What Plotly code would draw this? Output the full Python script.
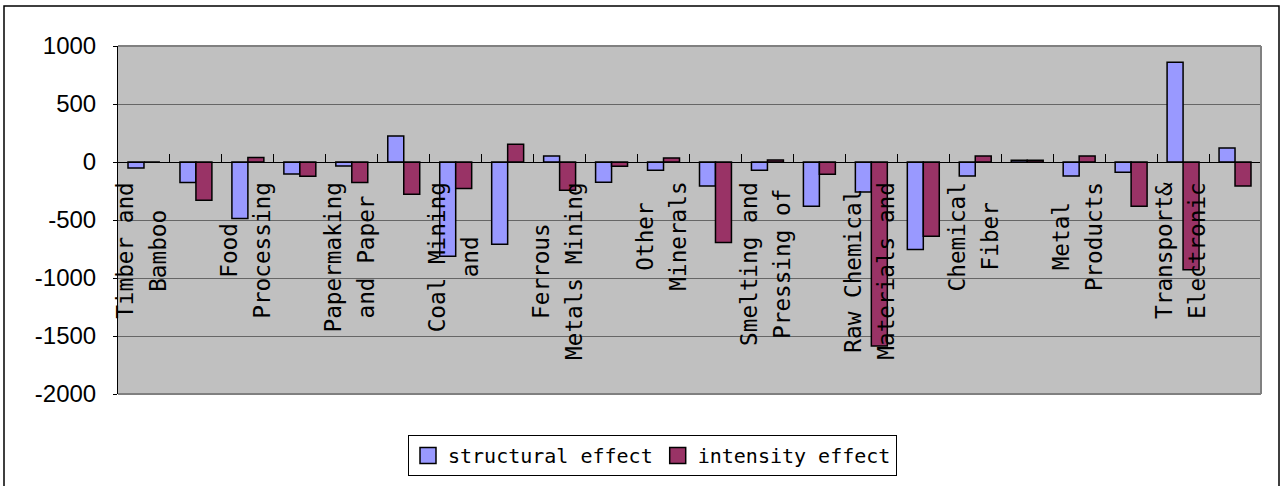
import plotly.graph_objects as go

# ---- data ----
categories = [
    "Timber and Bamboo", "Furniture", "Food Processing", "Food Production",
    "Papermaking and Paper", "Printing", "Coal Mining and Dressing",
    "Petroleum and Natural Gas", "Ferrous Metals Mining", "Nonferrous Metals Mining",
    "Other Minerals", "Petroleum Processing", "Smelting and Pressing of Ferrous Metals",
    "Smelting and Pressing of Nonferrous Metals", "Raw Chemical Materials and Products",
    "Medical and Pharmaceutical", "Chemical Fiber", "Rubber and Plastic",
    "Metal Products", "Machinery", "Transport& Electronic", "Other Manufacturing",
]
structural = [-52, -177, -488, -103, -34, 224, -813, -709, 52, -175, -72,
              -207, -72, -382, -258, -755, -121, 15, -121, -89, 860, 121]
intensity = [0, -330, 38, -123, -177, -278, -229, 153, -244, -37, 35,
             -695, 18, -106, -1586, -640, 52, 15, 52, -382, -928, -207]
# visible (truncated) category labels, shown for every other category
label_lines = {
    0: ["Timber and", "Bamboo"],
    2: ["Food", "Processing"],
    4: ["Papermaking", "and Paper"],
    6: ["Coal Mining", "and"],
    8: ["Ferrous", "Metals Mining"],
    10: ["Other", "Minerals"],
    12: ["Smelting and", "Pressing of"],
    14: ["Raw Chemical", "Materials and"],
    16: ["Chemical", "Fiber"],
    18: ["Metal", "Products"],
    20: ["Transport&", "Electronic"],
}
y_ticks = [1000, 500, 0, -500, -1000, -1500, -2000]
series_names = ["structural effect", "intensity effect"]
series_colors = ["#9999FF", "#993366"]

# ---- geometry (pixels) ----
W, H = 1282, 486
PX0, PX1, PY0, PY1 = 118, 1261, 46, 394


def pxx(px):
    return (px - PX0) / (PX1 - PX0)


def pxy(py):
    return (PY1 - py) / (PY1 - PY0)


MONO = "DejaVu Sans Mono"
LAB_SIZE = 22.7

fig = go.Figure()
for vals, name, col in zip([structural, intensity], series_names, series_colors):
    fig.add_trace(go.Bar(x=categories, y=vals, name=name, showlegend=False,
                         legendgroup=name,
                         marker=dict(color=col, line=dict(color="black", width=1.5))))
# legend entries with larger square swatches
for name, col in zip(series_names, series_colors):
    fig.add_trace(go.Scatter(x=[None], y=[None], mode="markers", name=name,
                             legendgroup=name,
                             marker=dict(symbol="square", size=16, color=col,
                                         line=dict(color="black", width=1.5))))

annotations = []
adv = 0.602 * LAB_SIZE
for idx, lines in label_lines.items():
    L = max(len(s) for s in lines)
    n = len(lines)
    for i, s in enumerate(lines):
        annotations.append(dict(
            x=categories[idx], y=0, xref="x", yref="y", text=s, showarrow=False,
            textangle=-90, xanchor="center", yanchor="middle",
            xshift=(i - (n - 1) / 2) * 33 - 2, yshift=-(20 + L * adv / 2),
            font=dict(family=MONO, size=LAB_SIZE, color="black"),
        ))

shapes = [
    # outer chart border
    dict(type="rect", xref="paper", yref="paper", x0=pxx(4), x1=pxx(1279),
         y0=pxy(492), y1=pxy(6), line=dict(color="black", width=1.5)),
    # plot frame (top, right, bottom)
    dict(type="line", xref="paper", yref="paper", x0=0, x1=1, y0=1, y1=1,
         line=dict(color="#808080", width=2)),
    dict(type="line", xref="paper", yref="paper", x0=1, x1=1, y0=0, y1=1,
         line=dict(color="#808080", width=2)),
    dict(type="line", xref="paper", yref="paper", x0=0, x1=1, y0=0, y1=0,
         line=dict(color="#808080", width=2)),
]

fig.update_layout(
    width=W, height=H,
    margin=dict(l=PX0, r=W - PX1, t=PY0, b=H - PY1, autoexpand=False),
    paper_bgcolor="white", plot_bgcolor="#C0C0C0",
    barmode="group", bargap=0.385, bargroupgap=0,
    showlegend=True,
    legend=dict(orientation="h", x=pxx(408), xanchor="left", y=pxy(435), yanchor="top",
                bgcolor="white", bordercolor="black", borderwidth=1,
                font=dict(family=MONO, size=20, color="black"),
                itemsizing="trace"),
    annotations=annotations,
    shapes=shapes,
    xaxis=dict(type="category", anchor="free", position=2 / 3, side="bottom",
               showline=True, linecolor="black", linewidth=1,
               ticks="inside", ticklen=8, tickcolor="black", tickson="boundaries",
               showticklabels=False, showgrid=False, zeroline=False,
               range=[-0.5, len(categories) - 0.5]),
    yaxis=dict(range=[-2000, 1000], tickvals=y_ticks, ticktext=[str(v) for v in y_ticks],
               showgrid=True, gridcolor="#666666", gridwidth=1, zeroline=False,
               showline=True, linecolor="black", linewidth=1,
               ticks="outside", ticklen=4, tickcolor="black", ticklabelstandoff=12,
               tickfont=dict(family="Liberation Sans", size=24, color="black")),
)

fig.write_html("out.html", config={"displayModeBar": False},
               post_script="document.body.style.margin='0';document.body.style.overflow='hidden';")
